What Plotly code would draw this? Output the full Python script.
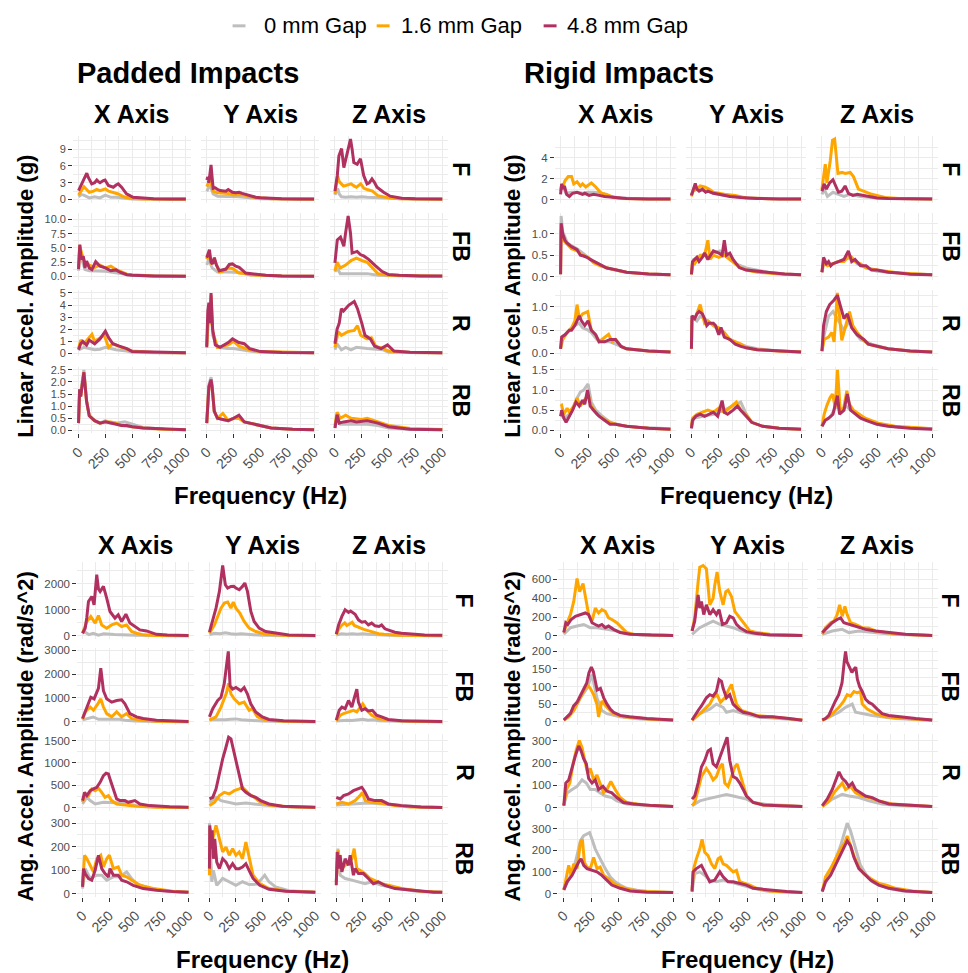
import plotly.graph_objects as go

W, H = 968, 973
FONT = "Liberation Sans, Arial, Helvetica, sans-serif"
GAP_NAMES = ["0 mm Gap", "1.6 mm Gap", "4.8 mm Gap"]
GAP_COLORS = ["#BEBEBE", "#FFA500", "#B03060"]
AXIS_NAMES = ["X Axis", "Y Axis", "Z Axis"]
ROW_NAMES = ["F", "FB", "R", "RB"]
FREQ_TICKS = [0, 250, 500, 750, 1000]
FREQ_MINOR = [125, 375, 625, 875]

# ---------------- Linear acceleration, padded impacts (g) ----------------
lp_F_X = [
    [(0,0.5),(25,0.9),(50,0.8),(75,0.5),(100,0.3),(150,0.5),(200,0.3),(250,0.8),(300,0.4),(350,0.4),(400,0.3),(450,0.2),(500,0.1),(600,0.08),(800,0.05),(1000,0.03)],
    [(0,0.8),(20,1.5),(50,2.3),(75,1.8),(100,1.3),(140,1.5),(170,1.8),(200,1.6),(250,1.9),(280,1.5),(320,1.3),(370,1.0),(420,0.5),(450,0.4),(500,0.2),(600,0.1),(800,0.05),(1000,0.03)],
    [(0,1.6),(15,2.2),(31,3.1),(50,3.6),(77,4.7),(90,4.0),(102,3.5),(123,2.8),(150,3.0),(170,3.5),(185,3.2),(200,3.0),(231,3.4),(247,3.5),(278,2.5),(300,2.3),(324,2.2),(350,2.6),(370,2.8),(401,2.2),(447,1.0),(509,0.4),(602,0.2),(700,0.12),(850,0.1),(1000,0.08)],
]
lp_F_Y = [
    [(0,1.5),(15,2.0),(30,2.5),(45,1.8),(60,1.0),(100,0.6),(150,0.6),(200,0.5),(250,0.5),(300,0.5),(400,0.3),(500,0.15),(700,0.08),(1000,0.05)],
    [(0,2.3),(15,3.0),(30,3.5),(45,2.6),(60,1.5),(100,1.2),(150,1.2),(200,1.1),(250,0.8),(300,0.9),(350,0.8),(400,0.5),(450,0.4),(500,0.3),(600,0.15),(800,0.08),(1000,0.05)],
    [(0,3.5),(10,4.0),(20,3.0),(30,4.5),(40,6.2),(50,4.0),(60,2.0),(80,2.1),(100,1.8),(125,1.6),(150,1.5),(178,1.5),(200,1.8),(240,1.3),(270,1.2),(302,1.3),(330,1.1),(363,0.9),(400,0.7),(455,0.4),(500,0.3),(600,0.2),(700,0.12),(850,0.1),(1000,0.08)],
]
lp_F_Z = [
    [(0,0.8),(15,1.5),(25,2.0),(40,1.0),(60,0.5),(100,0.4),(150,0.5),(200,0.4),(250,0.5),(300,0.4),(400,0.3),(500,0.2),(700,0.1),(1000,0.05)],
    [(0,1.0),(15,3.0),(25,4.2),(40,3.2),(60,2.8),(80,2.4),(100,2.5),(150,2.8),(180,2.4),(200,2.2),(240,2.8),(270,2.0),(300,1.8),(350,1.5),(400,0.7),(450,0.5),(500,0.3),(600,0.15),(800,0.08),(1000,0.05)],
    [(0,1.5),(10,3.0),(22,4.3),(37,7.8),(50,8.5),(62,9.1),(83,5.7),(99,7.0),(114,7.8),(130,9.5),(145,10.8),(160,9.0),(176,6.6),(207,6.3),(238,7.3),(268,4.3),(299,2.8),(320,3.0),(345,3.7),(370,3.0),(392,2.2),(453,1.3),(515,0.6),(623,0.25),(750,0.15),(1000,0.1)],
]
lp_FB_X = [
    [(0,1.0),(10,4.5),(30,3.0),(60,1.2),(100,1.0),(150,1.0),(200,1.0),(250,0.9),(300,0.8),(400,0.5),(500,0.2),(700,0.1),(1000,0.05)],
    [(0,1.5),(10,5.5),(30,4.0),(60,2.5),(100,2.0),(150,1.6),(200,2.0),(250,1.5),(300,1.8),(350,1.2),(400,0.8),(450,0.4),(500,0.3),(700,0.1),(1000,0.05)],
    [(0,1.3),(5,3.0),(12,5.6),(25,3.0),(45,3.5),(60,1.5),(75,2.7),(100,1.5),(125,1.2),(160,2.6),(200,1.8),(250,1.5),(300,1.0),(350,1.15),(380,0.8),(450,0.3),(500,0.2),(700,0.1),(1000,0.05)],
]
lp_FB_Y = [
    [(0,2.0),(20,3.0),(50,1.5),(100,0.8),(200,0.8),(300,0.7),(400,0.3),(500,0.2),(700,0.1),(1000,0.05)],
    [(0,3.0),(20,4.0),(40,2.5),(71,3.0),(117,0.8),(150,0.9),(200,1.5),(240,1.4),(300,0.6),(363,0.5),(400,0.3),(500,0.2),(700,0.1),(1000,0.05)],
    [(0,3.3),(25,4.7),(40,2.5),(55,2.2),(71,3.3),(90,2.0),(117,1.0),(150,1.2),(178,1.3),(210,2.1),(240,2.2),(270,1.8),(302,1.6),(363,0.6),(455,0.35),(550,0.2),(700,0.1),(1000,0.05)],
]
lp_FB_Z = [
    [(0,0.8),(20,1.5),(50,0.5),(100,0.5),(150,0.5),(200,0.5),(250,0.6),(300,0.5),(400,0.2),(500,0.15),(700,0.08),(1000,0.05)],
    [(0,1.0),(20,2.5),(50,1.5),(100,2.0),(150,2.8),(200,3.2),(250,2.8),(300,2.5),(350,1.5),(400,0.5),(500,0.2),(700,0.1),(1000,0.05)],
    [(0,2.4),(22,6.4),(52,6.9),(83,5.3),(99,7.6),(123,10.6),(145,7.6),(160,4.1),(207,4.4),(240,3.8),(268,3.6),(314,3.0),(376,1.9),(437,0.9),(499,0.35),(600,0.2),(800,0.1),(1000,0.08)],
]
lp_R_X = [
    [(0,0.3),(50,0.5),(100,0.4),(150,0.3),(200,0.35),(250,0.5),(300,0.4),(350,0.3),(450,0.2),(500,0.1),(700,0.05),(1000,0.03)],
    [(0,0.4),(20,1.1),(50,0.8),(100,1.3),(125,1.57),(150,1.0),(200,1.3),(240,1.5),(280,0.5),(320,0.8),(400,0.5),(500,0.2),(700,0.08),(1000,0.05)],
    [(0,0.3),(20,0.8),(40,1.0),(75,0.7),(100,1.1),(150,0.8),(200,1.2),(250,1.84),(280,1.3),(320,0.8),(380,0.6),(450,0.4),(500,0.15),(700,0.1),(1000,0.05)],
]
lp_R_Y = [
    [(0,0.6),(20,3.5),(30,2.5),(40,4.0),(55,1.5),(100,0.5),(200,0.4),(250,0.4),(400,0.2),(500,0.1),(1000,0.05)],
    [(0,0.6),(10,3.0),(20,4.0),(30,2.4),(40,4.8),(55,1.8),(100,0.5),(200,0.7),(250,1.0),(300,0.6),(400,0.3),(500,0.15),(1000,0.05)],
    [(0,0.5),(10,3.5),(20,4.2),(30,2.5),(40,5.0),(55,2.0),(80,0.7),(125,0.5),(200,0.9),(240,1.2),(300,0.9),(350,0.8),(400,0.4),(450,0.3),(500,0.15),(700,0.08),(1000,0.05)],
]
lp_R_Z = [
    [(0,0.3),(20,0.8),(60,0.3),(100,0.5),(150,0.3),(200,0.5),(300,0.4),(450,0.3),(500,0.1),(700,0.05),(1000,0.03)],
    [(0,0.5),(30,1.8),(60,1.5),(120,1.8),(180,1.9),(210,2.3),(240,1.5),(300,1.2),(340,1.3),(380,0.6),(450,0.4),(500,0.2),(700,0.08),(1000,0.05)],
    [(0,0.8),(20,2.0),(40,2.5),(60,3.7),(80,3.5),(130,4.0),(180,4.3),(210,3.7),(250,2.5),(280,1.5),(330,1.2),(370,0.6),(430,0.4),(490,0.7),(550,0.2),(700,0.1),(1000,0.05)],
]
lp_RB_X = [
    [(0,0.3),(10,1.6),(20,1.4),(30,1.9),(50,2.5),(75,1.2),(100,0.6),(150,0.4),(200,0.3),(250,0.4),(300,0.3),(350,0.3),(430,0.35),(500,0.25),(600,0.12),(800,0.05),(1000,0.03)],
    [(0,0.3),(10,1.7),(20,1.4),(30,1.8),(50,2.4),(75,1.2),(100,0.6),(150,0.4),(200,0.3),(250,0.35),(300,0.35),(350,0.3),(400,0.2),(500,0.15),(600,0.1),(800,0.05),(1000,0.03)],
    [(0,0.3),(10,1.7),(20,1.4),(30,1.8),(50,2.4),(75,1.2),(100,0.6),(150,0.4),(200,0.3),(250,0.35),(300,0.3),(350,0.25),(400,0.2),(450,0.2),(500,0.15),(600,0.1),(800,0.05),(1000,0.03)],
]
lp_RB_Y = [
    [(0,0.3),(20,1.9),(40,2.2),(50,1.9),(70,0.8),(100,0.5),(150,0.45),(200,0.4),(250,0.5),(300,0.5),(350,0.35),(400,0.3),(500,0.2),(600,0.1),(800,0.05),(1000,0.03)],
    [(0,0.3),(20,1.8),(40,2.0),(50,1.8),(70,0.8),(100,0.5),(150,0.7),(200,0.4),(250,0.5),(300,0.5),(350,0.35),(400,0.3),(500,0.2),(600,0.1),(800,0.05),(1000,0.03)],
    [(0,0.3),(20,1.8),(40,2.1),(50,1.8),(70,0.8),(100,0.5),(150,0.45),(200,0.4),(250,0.5),(300,0.63),(350,0.35),(400,0.3),(500,0.2),(600,0.1),(800,0.05),(1000,0.03)],
]
lp_RB_Z = [
    [(0,0.1),(20,0.5),(50,0.25),(100,0.25),(200,0.25),(300,0.25),(400,0.2),(500,0.1),(700,0.05),(1000,0.03)],
    [(0,0.2),(20,0.75),(50,0.5),(100,0.63),(150,0.5),(250,0.45),(300,0.5),(400,0.35),(500,0.2),(700,0.08),(1000,0.04)],
    [(0,0.1),(20,0.65),(40,0.3),(80,0.35),(150,0.4),(200,0.35),(300,0.4),(400,0.3),(500,0.15),(600,0.1),(700,0.05),(1000,0.03)],
]

# ---------------- Linear acceleration, rigid impacts (g) ----------------
lr_F_X = [
    [(0,0.8),(10,1.5),(30,1.0),(50,0.6),(100,0.7),(150,0.7),(200,0.6),(250,0.7),(300,0.7),(380,0.6),(450,0.3),(550,0.15),(700,0.08),(1000,0.05)],
    [(0,1.0),(20,1.2),(40,1.8),(70,2.2),(100,2.2),(120,1.5),(150,1.7),(180,1.3),(200,1.5),(230,1.2),(280,1.6),(320,1.2),(370,0.6),(420,0.5),(480,0.2),(550,0.1),(800,0.05),(1000,0.04)],
    [(0,0.5),(10,1.5),(25,1.0),(35,1.3),(55,0.5),(80,0.3),(110,0.6),(150,0.7),(200,0.5),(220,0.6),(260,0.4),(300,0.5),(350,0.4),(400,0.3),(500,0.2),(600,0.1),(800,0.06),(1000,0.04)],
]
lr_F_Y = [
    [(0,0.5),(20,1.0),(50,1.0),(100,0.9),(150,0.8),(200,0.6),(250,0.5),(300,0.4),(400,0.3),(500,0.15),(700,0.08),(1000,0.05)],
    [(0,0.3),(15,0.8),(50,1.0),(80,1.3),(120,1.2),(160,1.0),(200,0.7),(250,0.6),(300,0.5),(400,0.4),(450,0.3),(500,0.15),(700,0.08),(1000,0.05)],
    [(0,0.4),(15,1.0),(35,1.55),(50,1.0),(70,0.8),(100,1.0),(130,0.7),(150,0.8),(200,0.6),(250,0.5),(300,0.4),(350,0.3),(450,0.2),(500,0.15),(600,0.1),(800,0.06),(1000,0.05)],
]
lr_F_Z = [
    [(0,0.5),(20,1.0),(50,0.3),(100,0.7),(150,0.5),(200,0.3),(250,0.5),(350,0.3),(450,0.2),(600,0.1),(1000,0.05)],
    [(0,1.0),(15,2.5),(30,3.4),(45,1.6),(75,3.7),(96,5.7),(115,5.8),(127,4.5),(145,2.5),(181,2.6),(211,2.5),(256,2.6),(286,2.2),(331,1.0),(376,0.8),(452,0.5),(572,0.2),(700,0.1),(1000,0.05)],
    [(0,0.8),(20,1.5),(40,1.0),(70,1.6),(100,1.9),(120,1.4),(150,0.7),(180,0.8),(210,1.3),(240,0.6),(280,0.4),(320,0.5),(380,0.4),(450,0.3),(500,0.15),(600,0.1),(800,0.06),(1000,0.05)],
]
lr_FB_X = [
    [(0,0.05),(5,1.42),(20,1.05),(60,0.8),(100,0.72),(150,0.65),(200,0.55),(250,0.45),(300,0.35),(360,0.28),(420,0.2),(500,0.15),(600,0.1),(800,0.06),(1000,0.04)],
    [(0,0.05),(5,1.1),(25,0.85),(60,0.75),(100,0.65),(150,0.6),(200,0.5),(250,0.45),(300,0.32),(360,0.25),(420,0.2),(500,0.15),(600,0.1),(800,0.06),(1000,0.04)],
    [(0,0.05),(5,1.25),(20,1.0),(40,0.85),(60,0.78),(100,0.7),(150,0.63),(180,0.5),(210,0.48),(240,0.45),(270,0.4),(300,0.36),(360,0.28),(420,0.2),(480,0.17),(600,0.1),(800,0.06),(1000,0.04)],
]
lr_FB_Y = [
    [(0,0.05),(20,0.4),(60,0.45),(100,0.5),(150,0.5),(200,0.55),(260,0.6),(330,0.5),(400,0.3),(500,0.2),(600,0.15),(700,0.1),(850,0.06),(1000,0.04)],
    [(0,0.05),(10,0.35),(30,0.3),(80,0.5),(120,0.5),(150,0.85),(170,0.4),(200,0.5),(250,0.45),(300,0.5),(350,0.4),(400,0.3),(450,0.2),(500,0.15),(600,0.1),(800,0.06),(1000,0.04)],
    [(0,0.05),(10,0.35),(30,0.4),(50,0.45),(70,0.35),(100,0.45),(120,0.55),(150,0.4),(200,0.6),(250,0.55),(280,0.5),(300,0.85),(320,0.5),(350,0.55),(380,0.4),(436,0.21),(500,0.15),(600,0.12),(708,0.1),(850,0.06),(1000,0.04)],
]
lr_FB_Z = [
    [(0,0.1),(15,0.3),(100,0.3),(200,0.4),(270,0.45),(320,0.3),(400,0.2),(500,0.12),(700,0.08),(1000,0.04)],
    [(0,0.1),(15,0.35),(50,0.25),(100,0.3),(150,0.35),(200,0.35),(250,0.5),(300,0.35),(350,0.3),(400,0.2),(500,0.15),(700,0.08),(1000,0.04)],
    [(0,0.1),(15,0.45),(40,0.3),(60,0.35),(80,0.25),(100,0.3),(150,0.35),(200,0.4),(240,0.6),(270,0.35),(300,0.4),(350,0.25),(400,0.25),(450,0.15),(500,0.15),(600,0.1),(700,0.08),(800,0.05),(1000,0.04)],
]
lr_R_X = [
    [(0,0.1),(10,0.35),(40,0.4),(80,0.5),(130,0.6),(170,0.65),(200,0.55),(250,0.5),(280,0.45),(330,0.3),(400,0.25),(450,0.25),(500,0.2),(600,0.1),(800,0.05),(1000,0.03)],
    [(0,0.1),(20,0.3),(60,0.45),(100,0.55),(130,0.7),(150,1.05),(170,0.75),(200,0.85),(247,0.9),(280,0.5),(320,0.4),(350,0.25),(437,0.41),(470,0.25),(500,0.3),(550,0.15),(600,0.1),(800,0.05),(1000,0.03)],
    [(0,0.1),(10,0.35),(40,0.4),(80,0.5),(100,0.5),(130,0.6),(150,0.7),(170,0.81),(190,0.7),(220,0.6),(250,0.7),(280,0.5),(320,0.4),(350,0.25),(400,0.25),(450,0.3),(500,0.3),(550,0.15),(600,0.1),(700,0.08),(800,0.05),(1000,0.03)],
]
lr_R_Y = [
    [(0,0.1),(5,0.8),(50,0.7),(80,0.8),(150,0.7),(200,0.6),(250,0.5),(300,0.4),(350,0.3),(400,0.25),(500,0.15),(600,0.1),(800,0.05),(1000,0.03)],
    [(0,0.1),(5,0.7),(40,0.8),(80,1.05),(120,0.65),(150,0.7),(200,0.6),(250,0.55),(300,0.45),(350,0.3),(400,0.25),(450,0.2),(500,0.12),(600,0.08),(800,0.05),(1000,0.03)],
    [(0,0.1),(5,0.81),(30,0.75),(50,0.85),(70,0.9),(100,0.85),(120,0.75),(140,0.6),(160,0.65),(200,0.65),(220,0.6),(250,0.4),(270,0.56),(300,0.35),(350,0.3),(400,0.2),(450,0.15),(500,0.12),(600,0.08),(800,0.05),(1000,0.03)],
]
lr_R_Z = [
    [(0,0.05),(20,0.4),(60,0.8),(100,0.9),(150,0.7),(200,0.5),(250,0.7),(300,0.45),(350,0.3),(450,0.2),(600,0.1),(800,0.05),(1000,0.03)],
    [(0,0.05),(20,0.3),(60,0.35),(90,0.45),(110,0.25),(140,1.3),(160,0.8),(180,0.28),(210,0.55),(250,0.9),(280,0.6),(320,0.45),(370,0.3),(420,0.2),(500,0.15),(600,0.1),(800,0.05),(1000,0.03)],
    [(0,0.05),(15,0.6),(40,0.9),(70,1.05),(110,1.15),(140,1.25),(170,1.0),(200,0.75),(230,0.85),(270,0.55),(320,0.4),(380,0.3),(420,0.2),(500,0.15),(600,0.1),(800,0.05),(1000,0.03)],
]
lr_RB_X = [
    [(0,0.4),(30,0.3),(80,0.4),(120,0.6),(150,0.8),(180,0.95),(210,1.0),(250,1.15),(280,0.7),(320,0.5),(380,0.35),(450,0.2),(550,0.12),(700,0.08),(1000,0.04)],
    [(0,0.6),(10,0.62),(30,0.4),(60,0.55),(80,0.45),(120,0.6),(150,0.8),(180,0.6),(200,0.7),(230,0.8),(250,0.9),(280,0.6),(330,0.4),(380,0.3),(450,0.2),(500,0.15),(600,0.1),(800,0.05),(1000,0.03)],
    [(0,0.35),(10,0.5),(30,0.3),(50,0.2),(80,0.35),(110,0.5),(140,0.7),(170,0.6),(200,0.75),(220,0.65),(245,1.0),(270,0.6),(300,0.5),(350,0.35),(400,0.25),(450,0.15),(500,0.15),(600,0.1),(800,0.05),(1000,0.03)],
]
lr_RB_Y = [
    [(0,0.05),(20,0.3),(100,0.35),(200,0.4),(300,0.5),(380,0.6),(450,0.7),(500,0.4),(550,0.2),(650,0.1),(800,0.05),(1000,0.03)],
    [(0,0.1),(10,0.3),(50,0.4),(100,0.45),(150,0.5),(200,0.45),(250,0.55),(300,0.45),(370,0.6),(410,0.7),(450,0.5),(500,0.4),(550,0.2),(650,0.1),(800,0.05),(1000,0.03)],
    [(0,0.05),(10,0.25),(40,0.35),(80,0.4),(120,0.35),(160,0.4),(200,0.45),(240,0.35),(280,0.74),(300,0.45),(330,0.4),(380,0.5),(420,0.6),(450,0.5),(500,0.35),(550,0.2),(650,0.1),(800,0.05),(1000,0.03)],
]
lr_RB_Z = [
    [(0,0.1),(30,0.25),(80,0.35),(130,0.6),(170,0.5),(220,0.6),(260,0.5),(300,0.45),(350,0.35),(400,0.25),(500,0.15),(700,0.08),(1000,0.04)],
    [(0,0.1),(20,0.4),(45,0.62),(75,0.82),(96,0.9),(120,0.58),(141,1.5),(166,0.5),(196,0.54),(226,0.98),(247,0.66),(286,0.5),(392,0.3),(512,0.18),(663,0.1),(1000,0.04)],
    [(0,0.1),(30,0.25),(60,0.3),(100,0.4),(140,0.86),(160,0.4),(200,0.5),(230,0.9),(260,0.5),(300,0.4),(350,0.3),(400,0.25),(500,0.15),(600,0.1),(800,0.05),(1000,0.03)],
]

# ---------------- Angular acceleration, padded impacts (rad/s^2) ----------------
ap_F_X = [
    [(0,100),(20,150),(60,50),(100,100),(150,30),(200,80),(300,50),(400,30),(500,20),(700,10),(1000,5)],
    [(0,100),(10,230),(40,550),(78,745),(119,490),(150,780),(181,420),(228,295),(275,420),(322,490),(369,360),(415,420),(462,170),(509,100),(572,40),(697,15),(1000,5)],
    [(0,100),(25,290),(40,700),(56,1320),(87,1510),(109,1190),(134,2350),(150,1800),(166,1700),(197,1900),(228,1450),(259,935),(306,680),(337,810),(369,550),(409,830),(447,490),(494,360),(541,230),(603,190),(697,60),(800,30),(1000,15)],
]
ap_F_Y = [
    [(0,50),(50,100),(100,80),(150,120),(200,80),(250,60),(300,80),(400,40),(500,20),(700,10),(1000,5)],
    [(0,100),(47,420),(78,745),(109,1064),(140,1256),(172,1295),(203,1064),(225,1295),(250,1064),(287,870),(328,551),(375,295),(437,167),(531,64),(700,20),(1000,5)],
    [(0,141),(30,550),(62,1064),(94,1705),(125,2700),(150,1960),(172,1833),(203,1897),(230,1900),(250,1833),(281,1769),(312,1897),(334,2025),(359,1705),(391,935),(422,551),(469,295),(531,167),(625,103),(750,38),(1000,10)],
]
ap_F_Z = [
    [(0,30),(50,80),(100,60),(150,80),(200,60),(250,80),(300,60),(400,40),(500,20),(700,10),(1000,5)],
    [(0,50),(22,250),(50,400),(80,500),(100,400),(120,450),(150,520),(170,400),(200,350),(230,280),(260,250),(300,200),(350,130),(400,80),(450,60),(500,40),(600,20),(800,10),(1000,5)],
    [(0,64),(22,420),(53,745),(84,1000),(100,950),(116,900),(135,950),(150,900),(178,830),(209,615),(241,525),(272,550),(303,420),(334,490),(366,385),(403,360),(428,420),(459,270),(506,190),(553,140),(616,100),(709,64),(834,38),(1000,20)],
]
ap_FB_X = [
    [(0,80),(50,150),(100,200),(150,100),(200,100),(250,80),(300,80),(350,100),(400,60),(500,30),(700,10),(1000,5)],
    [(0,96),(25,411),(72,616),(103,480),(141,726),(172,959),(197,616),(228,342),(275,205),(322,411),(369,205),(415,342),(462,137),(541,68),(700,20),(1000,5)],
    [(0,137),(41,616),(78,1027),(109,959),(150,1400),(172,2250),(185,1600),(197,1300),(228,959),(275,822),(322,890),(369,918),(400,753),(447,342),(509,205),(572,137),(697,68),(850,30),(1000,15)],
]
ap_FB_Y = [
    [(0,80),(50,80),(100,60),(150,80),(200,100),(250,120),(300,80),(350,60),(400,50),(500,30),(700,10),(1000,5)],
    [(0,68),(62,205),(109,616),(140,959),(160,1200),(181,1610),(203,1164),(234,959),(281,753),(328,822),(375,480),(406,548),(453,205),(531,68),(700,20),(1000,5)],
    [(0,205),(31,548),(78,890),(109,1027),(140,1600),(160,2200),(178,2950),(195,1500),(219,1370),(250,1438),(297,1300),(328,1438),(359,1164),(390,753),(437,411),(500,205),(562,96),(700,41),(1000,15)],
]
ap_FB_Z = [
    [(0,30),(50,50),(100,60),(150,50),(200,80),(250,100),(300,60),(350,80),(400,40),(500,20),(700,10),(1000,5)],
    [(0,41),(38,274),(69,342),(116,411),(162,480),(194,411),(230,600),(250,750),(288,480),(334,274),(397,137),(491,68),(700,20),(1000,5)],
    [(0,68),(28,480),(53,616),(84,548),(116,890),(147,616),(172,1027),(194,1370),(209,822),(241,480),(272,548),(303,452),(341,480),(381,274),(428,205),(491,96),(616,41),(800,20),(1000,10)],
]
ap_R_X = [
    [(0,82),(41,231),(72,157),(119,82),(197,119),(291,104),(384,104),(509,45),(666,20),(1000,5)],
    [(0,119),(25,306),(56,269),(87,418),(119,380),(150,432),(181,343),(212,231),(244,269),(275,157),(322,82),(384,60),(509,30),(700,10),(1000,5)],
    [(0,157),(19,343),(41,269),(72,380),(103,418),(134,455),(166,567),(197,716),(222,769),(244,754),(259,642),(291,418),(322,194),(353,157),(400,157),(431,119),(494,157),(541,82),(634,45),(822,22),(1000,10)],
]
ap_R_Y = [
    [(0,119),(62,231),(109,157),(187,119),(250,82),(344,104),(437,82),(562,45),(800,15),(1000,5)],
    [(0,45),(47,119),(94,269),(140,343),(187,306),(234,380),(281,418),(312,455),(344,380),(375,306),(422,231),(484,119),(562,60),(750,20),(1000,5)],
    [(0,194),(31,231),(62,418),(94,791),(125,1090),(156,1351),(181,1575),(203,1537),(225,1313),(250,1090),(281,716),(312,418),(344,343),(391,269),(437,231),(484,157),(562,82),(687,30),(1000,10)],
]
ap_R_Z = [
    [(0,60),(147,82),(303,104),(459,82),(616,45),(800,15),(1000,5)],
    [(0,82),(53,119),(116,82),(178,157),(225,269),(247,343),(272,157),(334,119),(428,100),(553,45),(700,15),(1000,5)],
    [(0,231),(37,194),(69,269),(116,306),(162,380),(209,418),(241,455),(272,343),(303,194),(366,157),(428,157),(491,82),(616,45),(800,15),(1000,5)],
]
ap_RB_X = [
    [(0,21),(25,106),(72,64),(134,78),(181,78),(228,57),(291,71),(353,71),(416,92),(462,64),(509,42),(634,21),(800,10),(1000,5)],
    [(0,35),(19,163),(41,148),(72,120),(103,92),(134,148),(172,163),(197,113),(228,148),(253,163),(291,106),(337,113),(369,78),(415,71),(462,57),(541,35),(666,21),(850,10),(1000,5)],
    [(0,28),(9,106),(25,85),(56,64),(87,57),(119,99),(150,163),(181,106),(212,85),(244,71),(259,106),(291,78),(337,78),(369,57),(416,50),(478,35),(572,21),(697,14),(884,7),(1000,5)],
]
ap_RB_Y = [
    [(0,300),(10,150),(22,50),(37,99),(69,35),(125,64),(187,50),(250,35),(312,50),(375,38),(450,40),(522,78),(562,50),(625,28),(750,12),(1000,5)],
    [(0,78),(6,276),(31,233),(62,290),(94,233),(125,177),(156,198),(187,163),(219,191),(250,163),(281,177),(312,148),(344,219),(375,148),(412,78),(475,42),(562,21),(750,10),(1000,5)],
    [(0,106),(3,290),(16,191),(25,269),(37,148),(50,233),(69,134),(94,106),(125,148),(156,134),(187,106),(219,127),(250,106),(281,106),(312,113),(344,127),(381,92),(412,64),(475,35),(562,18),(719,10),(1000,5)],
]
ap_RB_Z = [
    [(0,50),(16,191),(37,78),(84,64),(147,57),(209,50),(272,42),(334,50),(428,35),(553,24),(750,10),(1000,5)],
    [(0,50),(16,184),(37,134),(69,113),(116,134),(147,148),(169,191),(194,106),(225,99),(272,85),(319,64),(381,50),(428,42),(491,35),(616,21),(800,10),(1000,5)],
    [(0,35),(9,177),(22,106),(37,163),(53,92),(84,148),(116,120),(131,163),(162,78),(178,106),(209,85),(256,85),(303,64),(350,42),(397,50),(459,35),(553,21),(709,14),(922,5),(1000,5)],
]

# ---------------- Angular acceleration, rigid impacts (rad/s^2) ----------------
ar_F_X = [
    [(0,17),(61,87),(121,104),(182,121),(242,87),(303,87),(394,69),(485,52),(576,24),(700,10),(1000,5)],
    [(0,35),(24,121),(61,226),(91,365),(121,608),(145,469),(176,556),(197,434),(227,226),(258,156),(288,295),(318,243),(348,278),(379,260),(409,191),(439,174),(485,139),(530,87),(576,35),(636,17),(800,8),(1000,5)],
    [(0,35),(18,139),(36,121),(67,174),(106,208),(152,226),(197,243),(227,226),(258,139),(288,121),(318,104),(348,121),(379,87),(409,104),(455,69),(515,35),(606,17),(800,8),(1000,5)],
]
ar_F_Y = [
    [(0,17),(70,87),(130,122),(191,156),(252,122),(312,104),(373,87),(433,59),(494,35),(585,17),(800,8),(1000,5)],
    [(0,52),(24,191),(55,573),(70,729),(100,747),(130,712),(161,330),(191,399),(206,538),(227,677),(252,469),(282,330),(306,469),(327,486),(358,417),(388,260),(433,191),(479,122),(524,52),(585,35),(706,17),(1000,5)],
    [(0,52),(24,156),(39,295),(55,434),(70,295),(85,365),(106,226),(130,330),(161,226),(191,278),(221,226),(245,278),(276,122),(312,139),(342,208),(373,191),(403,122),(433,87),(494,45),(585,24),(706,10),(1000,5)],
]
ar_F_Z = [
    [(0,17),(91,52),(182,69),(242,35),(333,52),(455,35),(636,17),(1000,5)],
    [(0,17),(30,87),(76,139),(106,156),(136,226),(158,330),(182,208),(206,313),(227,226),(258,139),(303,122),(364,87),(424,80),(485,52),(576,35),(697,17),(1000,5)],
    [(0,35),(45,87),(91,139),(136,174),(167,191),(197,139),(242,122),(288,104),(333,87),(394,69),(485,52),(606,35),(758,17),(1000,5)],
]
ar_FB_X = [
    [(0,5),(91,32),(152,68),(212,95),(258,134),(303,68),(348,32),(394,23),(515,14),(700,8),(1000,4)],
    [(0,4),(45,14),(91,32),(136,59),(182,86),(212,105),(242,95),(273,77),(303,50),(318,14),(348,59),(394,41),(455,23),(545,14),(650,12),(770,8),(1000,4)],
    [(0,5),(30,14),(60,23),(90,45),(120,55),(150,73),(180,91),(210,110),(230,139),(252,155),(270,143),(290,110),(305,90),(335,95),(365,68),(395,50),(425,36),(455,27),(515,18),(600,14),(760,9),(1000,5)],
]
ar_FB_Y = [
    [(0,4),(70,23),(161,36),(221,50),(282,41),(312,27),(373,32),(464,23),(585,14),(800,8),(1000,4)],
    [(0,4),(39,14),(85,27),(130,41),(161,50),(191,68),(227,77),(258,55),(297,68),(330,90),(358,106),(373,86),(403,50),(448,32),(494,27),(585,18),(706,14),(890,9),(1000,5)],
    [(0,5),(24,18),(55,32),(85,45),(130,68),(161,77),(191,73),(221,86),(245,120),(267,115),(282,95),(312,68),(342,77),(373,50),(418,36),(464,27),(524,23),(615,14),(730,14),(880,9),(1000,4)],
]
ar_FB_Z = [
    [(0,4),(91,18),(152,27),(212,41),(273,50),(303,27),(364,23),(455,18),(667,9),(1000,4)],
    [(0,4),(61,14),(106,27),(152,41),(197,59),(227,77),(258,73),(288,86),(318,82),(348,86),(364,50),(409,36),(485,23),(576,14),(760,9),(1000,4)],
    [(0,5),(30,9),(60,18),(90,41),(120,59),(150,77),(180,110),(200,170),(212,200),(225,170),(242,160),(270,140),(290,150),(305,155),(320,120),(340,100),(364,86),(394,64),(424,55),(455,50),(500,36),(545,23),(606,18),(700,14),(850,9),(1000,5)],
]
ar_R_X = [
    [(0,9),(30,66),(76,81),(121,95),(167,124),(206,110),(242,81),(288,81),(333,66),(379,52),(439,45),(485,30),(576,16),(760,9),(1000,5)],
    [(0,9),(24,81),(55,110),(85,196),(115,261),(142,300),(167,268),(191,211),(218,153),(242,175),(273,124),(303,146),(333,110),(364,66),(394,81),(430,117),(470,81),(515,45),(576,23),(667,16),(818,9),(1000,5)],
    [(0,9),(18,110),(45,124),(76,182),(106,232),(136,276),(158,254),(182,218),(206,196),(227,131),(258,110),(288,124),(318,81),(358,95),(394,74),(439,66),(485,45),(545,23),(636,16),(818,9),(1000,5)],
]
ar_R_Y = [
    [(0,9),(70,30),(130,38),(191,45),(252,52),(312,59),(373,52),(433,45),(494,38),(555,23),(676,14),(858,9),(1000,5)],
    [(0,9),(24,23),(55,81),(85,139),(130,175),(161,153),(191,124),(221,139),(252,182),(276,196),(297,110),(327,95),(358,139),(388,182),(409,196),(433,153),(464,95),(494,52),(555,23),(645,12),(800,8),(1000,5)],
    [(0,38),(24,52),(55,110),(85,182),(115,211),(145,254),(167,261),(191,196),(221,182),(252,225),(276,254),(297,283),(318,315),(342,211),(373,139),(403,131),(433,110),(464,81),(494,52),(555,23),(645,12),(800,8),(1000,5)],
]
ar_R_Z = [
    [(0,5),(91,38),(182,59),(242,52),(333,45),(424,30),(545,16),(697,9),(1000,5)],
    [(0,5),(61,30),(106,66),(152,95),(182,110),(212,81),(258,95),(303,66),(364,52),(424,45),(515,30),(636,16),(818,9),(1000,5)],
    [(0,9),(45,38),(91,81),(121,124),(152,160),(182,131),(212,117),(242,95),(273,110),(303,81),(348,66),(394,52),(455,45),(515,30),(606,16),(758,12),(1000,5)],
]
ar_RB_X = [
    [(0,17),(45,69),(91,115),(121,176),(152,244),(182,267),(212,273),(236,281),(258,250),(288,205),(318,175),(348,145),(379,115),(424,77),(470,54),(515,39),(576,24),(697,12),(880,6),(1000,5)],
    [(0,17),(24,84),(45,130),(67,84),(91,137),(121,115),(152,235),(170,250),(188,145),(212,122),(242,115),(273,167),(303,115),(333,122),(364,84),(409,69),(455,47),(515,32),(606,17),(760,9),(1000,5)],
    [(0,17),(30,54),(76,84),(106,115),(136,145),(158,160),(182,130),(212,115),(258,107),(303,100),(348,84),(394,62),(439,39),(515,24),(606,12),(760,6),(1000,5)],
]
ar_RB_Y = [
    [(0,9),(24,92),(70,100),(115,84),(161,62),(221,54),(282,62),(342,54),(403,47),(464,39),(555,24),(676,12),(1000,5)],
    [(0,17),(15,115),(39,160),(70,205),(91,250),(115,190),(145,175),(176,137),(206,115),(236,160),(258,167),(282,137),(312,130),(342,115),(373,100),(403,107),(433,54),(479,47),(524,39),(585,24),(706,12),(890,6),(1000,5)],
    [(0,9),(9,100),(39,115),(85,130),(115,100),(161,54),(206,62),(252,100),(282,77),(327,54),(373,54),(433,47),(494,39),(555,24),(676,17),(858,9),(1000,5)],
]
ar_RB_Z = [
    [(0,9),(30,54),(76,100),(121,160),(167,220),(197,273),(227,325),(258,288),(288,235),(318,175),(348,130),(394,92),(455,54),(515,39),(606,24),(727,12),(909,6),(1000,5)],
    [(0,9),(30,77),(76,115),(121,160),(167,205),(206,235),(227,265),(258,220),(288,175),(333,122),(379,92),(439,69),(515,47),(576,39),(667,24),(818,12),(1000,5)],
    [(0,9),(30,54),(76,84),(121,130),(167,175),(206,220),(227,243),(258,220),(288,167),(333,115),(379,92),(439,62),(515,39),(606,24),(758,12),(939,6),(1000,5)],
]

# y-axis tick values for each facet row (F, FB, R, RB)
LP_YTICKS = [[0, 3, 6, 9], [0, 2.5, 5, 7.5, 10], [0, 1, 2, 3, 4, 5], [0, 0.5, 1, 1.5, 2, 2.5]]
LR_YTICKS = [[0, 2, 4], [0, 0.5, 1.0], [0, 0.5, 1.0], [0, 0.5, 1.0, 1.5]]
AP_YTICKS = [[0, 1000, 2000], [0, 1000, 2000, 3000], [0, 500, 1000, 1500], [0, 100, 200, 300]]
AR_YTICKS = [[0, 200, 400, 600], [0, 50, 100, 150, 200], [0, 100, 200, 300], [0, 100, 200, 300]]
LP_YFMT = ["{:.0f}", "{:.1f}", "{:.0f}", "{:.1f}"]
LR_YFMT = ["{:.0f}", "{:.1f}", "{:.1f}", "{:.1f}"]
AP_YFMT = ["{:.0f}"] * 4
AR_YFMT = ["{:.0f}"] * 4

# ---------------- layout (pixel geometry) ----------------
TOP_ROWS = [(133, 200), (210.5, 277.5), (288, 355), (365.5, 432.5)]
BOT_ROWS = [(562, 640), (648.5, 726.5), (735, 813), (821.5, 899.5)]

GROUPS = [
    dict(panels=[[lp_F_X, lp_F_Y, lp_F_Z], [lp_FB_X, lp_FB_Y, lp_FB_Z], [lp_R_X, lp_R_Y, lp_R_Z], [lp_RB_X, lp_RB_Y, lp_RB_Z]],
         yticks=LP_YTICKS, yfmt=LP_YFMT, ytitle="Linear Accel. Amplitude (g)", title="Padded Impacts",
         cols=[(69.6, 188.4), (198.6, 317.4), (327.6, 446.4)], rows=TOP_ROWS,
         title_xy=(71, 69), head_y=111, rowlab_x=460, ytitle_xy=(22, 294), xtitle_xy=(258, 495), ytick_size=11),
    dict(panels=[[lr_F_X, lr_F_Y, lr_F_Z], [lr_FB_X, lr_FB_Y, lr_FB_Z], [lr_R_X, lr_R_Y, lr_R_Z], [lr_RB_X, lr_RB_Y, lr_RB_Z]],
         yticks=LR_YTICKS, yfmt=LR_YFMT, ytitle="Linear Accel. Amplitude (g)", title="Rigid Impacts",
         cols=[(554.5, 676.2), (686.2, 807.5), (817.5, 939.5)], rows=TOP_ROWS,
         title_xy=(521, 69), head_y=111, rowlab_x=953, ytitle_xy=(512, 294), xtitle_xy=(747, 495), ytick_size=11.5),
    dict(panels=[[ap_F_X, ap_F_Y, ap_F_Z], [ap_FB_X, ap_FB_Y, ap_FB_Z], [ap_R_X, ap_R_Y, ap_R_Z], [ap_RB_X, ap_RB_Y, ap_RB_Z]],
         yticks=AP_YTICKS, yfmt=AP_YFMT, ytitle="Ang. Accel. Amplitude (rad/s^2)", title=None,
         cols=[(73.7, 191), (201.4, 318.6), (329, 446.3)], rows=BOT_ROWS,
         title_xy=None, head_y=545, rowlab_x=463, ytitle_xy=(22, 738), xtitle_xy=(260, 962), ytick_size=11.5),
    dict(panels=[[ar_F_X, ar_F_Y, ar_F_Z], [ar_FB_X, ar_FB_Y, ar_FB_Z], [ar_R_X, ar_R_Y, ar_R_Z], [ar_RB_X, ar_RB_Y, ar_RB_Z]],
         yticks=AR_YTICKS, yfmt=AR_YFMT, ytitle="Ang. Accel. Amplitude (rad/s^2)", title=None,
         cols=[(557.8, 678.8), (686.8, 808.8), (817.8, 939.5)], rows=BOT_ROWS,
         title_xy=None, head_y=545, rowlab_x=952, ytitle_xy=(512, 738), xtitle_xy=(748, 962), ytick_size=11.5),
]

GRID = "#EBEBEB"
TICKC = "#333333"
LABC = "#4D4D4D"


def fx(p):
    return p / W


def fy(p):
    return 1 - p / H


fig = go.Figure()
layout = {}
annotations = []
n = 0
for g in GROUPS:
    for ri, row in enumerate(g["panels"]):
        allv = [a for panel in row for series in panel for (_, a) in series]
        hi = max(allv)
        lo = min(0.0, min(allv))
        span = hi - lo
        yr = [lo - 0.05 * span, hi + 0.05 * span]
        ticks = g["yticks"][ri]
        step = ticks[1] - ticks[0]
        yminor = [t + step / 2 for t in ticks] + [ticks[0] - step / 2]
        yminor = [v for v in yminor if yr[0] <= v <= yr[1]]
        top, bot = g["rows"][ri]
        for ci, panel in enumerate(row):
            n += 1
            xk = "xaxis" if n == 1 else f"xaxis{n}"
            yk = "yaxis" if n == 1 else f"yaxis{n}"
            xr = "x" if n == 1 else f"x{n}"
            yrf = "y" if n == 1 else f"y{n}"
            left, right = g["cols"][ci]
            is_bottom = ri == len(g["panels"]) - 1
            is_left = ci == 0
            layout[xk] = dict(
                domain=[fx(left), fx(right)], anchor=yrf, range=[-50, 1050],
                tickmode="array", tickvals=FREQ_TICKS, ticktext=[str(t) for t in FREQ_TICKS],
                showticklabels=is_bottom, ticks="outside" if is_bottom else "",
                ticklen=4, tickwidth=1, tickcolor=TICKC, tickangle=-45,
                tickfont=dict(family=FONT, size=14, color=LABC),
                showgrid=True, gridcolor=GRID, gridwidth=1.4, zeroline=False, showline=False,
                minor=dict(tickvals=FREQ_MINOR, showgrid=True, gridcolor=GRID, gridwidth=0.7, ticks=""),
                fixedrange=True,
            )
            layout[yk] = dict(
                domain=[fy(bot), fy(top)], anchor=xr, range=yr,
                tickmode="array", tickvals=ticks, ticktext=[g["yfmt"][ri].format(t) for t in ticks],
                showticklabels=is_left, ticks="outside" if is_left else "",
                ticklen=4, tickwidth=1, tickcolor=TICKC,
                tickfont=dict(family=FONT, size=g["ytick_size"], color=LABC),
                showgrid=True, gridcolor=GRID, gridwidth=1.4, zeroline=False, showline=False,
                minor=dict(tickvals=yminor, showgrid=True, gridcolor=GRID, gridwidth=0.7, ticks=""),
                fixedrange=True,
            )
            for si, series in enumerate(panel):
                fig.add_trace(go.Scatter(
                    x=[f for f, _ in series], y=[a for _, a in series],
                    mode="lines", line=dict(color=GAP_COLORS[si], width=3),
                    name=GAP_NAMES[si], legendgroup=GAP_NAMES[si], showlegend=False,
                    xaxis=xr, yaxis=yrf, hoverinfo="skip",
                ))
            if ri == 0:
                annotations.append(dict(
                    text=f"<b>{AXIS_NAMES[ci]}</b>", x=fx((left + right) / 2), y=fy(g["head_y"]),
                    xref="paper", yref="paper", showarrow=False, xanchor="center", yanchor="middle",
                    font=dict(family=FONT, size=25, color="#000000"),
                ))
        annotations.append(dict(
            text=f"<b>{ROW_NAMES[ri]}</b>", x=fx(g["rowlab_x"]), y=fy((top + bot) / 2),
            xref="paper", yref="paper", showarrow=False, xanchor="center", yanchor="middle",
            textangle=90, font=dict(family=FONT, size=23, color="#000000"),
        ))
    annotations.append(dict(
        text=f"<b>{g['ytitle']}</b>", x=fx(g["ytitle_xy"][0]), y=fy(g["ytitle_xy"][1]),
        xref="paper", yref="paper", showarrow=False, xanchor="center", yanchor="middle",
        textangle=-90, font=dict(family=FONT, size=22, color="#000000"),
    ))
    annotations.append(dict(
        text="<b>Frequency (Hz)</b>", x=fx(g["xtitle_xy"][0]), y=fy(g["xtitle_xy"][1]),
        xref="paper", yref="paper", showarrow=False, xanchor="center", yanchor="middle",
        font=dict(family=FONT, size=24, color="#000000"),
    ))
    if g["title"]:
        annotations.append(dict(
            text=f"<b>{g['title']}</b>", x=fx(g["title_xy"][0]), y=fy(g["title_xy"][1]),
            xref="paper", yref="paper", showarrow=False, xanchor="left", yanchor="middle",
            font=dict(family=FONT, size=29, color="#000000"),
        ))

# legend (drawn as keys + labels, centred at the top)
shapes = []
LEG_KEYS = [(230, 260), (375, 397), (543, 565)]
for (kx, tx), name, col in zip(LEG_KEYS, GAP_NAMES, GAP_COLORS):
    shapes.append(dict(type="line", xref="paper", yref="paper", x0=fx(kx), x1=fx(kx + 13),
                       y0=fy(22), y1=fy(22), line=dict(color=col, width=3)))
    annotations.append(dict(
        text=name, x=fx(tx), y=fy(22), xref="paper", yref="paper", showarrow=False,
        xanchor="left", yanchor="middle", font=dict(family=FONT, size=22, color="#000000"),
    ))

fig.update_layout(
    width=W, height=H, margin=dict(l=0, r=0, t=0, b=0),
    paper_bgcolor="white", plot_bgcolor="white", showlegend=False,
    annotations=annotations, shapes=shapes, **layout,
)
fig.write_html("out.html")
